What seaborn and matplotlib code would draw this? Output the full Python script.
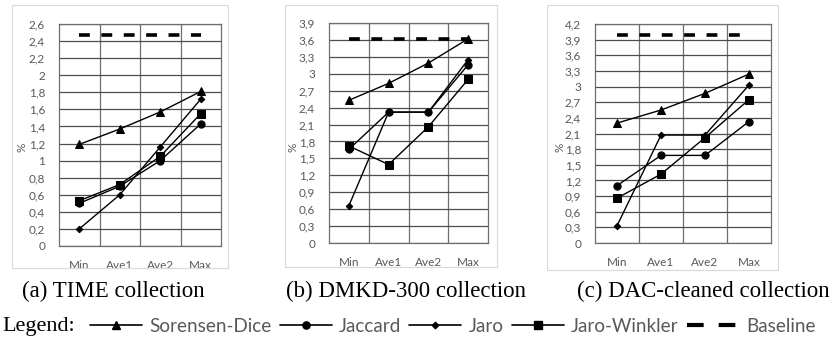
"""Similarity measures vs. baseline on three collections (Excel-style line charts)."""

import matplotlib.pyplot as plt
import numpy as np
import pandas as pd
import seaborn as sns
from matplotlib.lines import Line2D
from matplotlib.patches import Rectangle
from matplotlib.ticker import FixedLocator, FuncFormatter

CATEGORIES = ["Min", "Ave1", "Ave2", "Max"]
METHODS = ["Sorensen-Dice", "Jaccard", "Jaro", "Jaro-Winkler"]

# (a) TIME collection
TIME_DICE = [1.19, 1.37, 1.57, 1.81]
TIME_JACCARD = [0.50, 0.70, 1.00, 1.43]
TIME_JARO = [0.20, 0.60, 1.16, 1.72]
TIME_WINKLER = [0.53, 0.72, 1.05, 1.55]
TIME_BASE = [2.47, 2.47, 2.47, 2.47]

# (b) DMKD-300 collection
DMKD_DICE = [2.53, 2.83, 3.19, 3.62]
DMKD_JACCARD = [1.66, 2.32, 2.32, 3.16]
DMKD_JARO = [0.66, 2.32, 2.32, 3.25]
DMKD_WINKLER = [1.72, 1.39, 2.06, 2.90]
DMKD_BASE = [3.62, 3.62, 3.62, 3.62]

# (c) DAC-cleaned collection
DAC_DICE = [2.30, 2.55, 2.87, 3.24]
DAC_JACCARD = [1.10, 1.68, 1.68, 2.33]
DAC_JARO = [0.33, 2.07, 2.07, 3.03]
DAC_WINKLER = [0.86, 1.32, 2.02, 2.75]
DAC_BASE = [3.99, 3.99, 3.99, 3.99]

CAPTIONS = ["(a) TIME collection", "(b) DMKD-300 collection", "(c) DAC-cleaned collection"]
Y_MAX = [2.6, 3.9, 4.2]
Y_STEP = [0.2, 0.3, 0.3]

MARKERS = {"Sorensen-Dice": "^", "Jaccard": "o", "Jaro": "D", "Jaro-Winkler": "s"}
MSIZE = {"Sorensen-Dice": 5.2, "Jaccard": 5.2, "Jaro": 3.3, "Jaro-Winkler": 5.2}

GREY_TEXT = "#595959"
GRID = "#4d4d4d"

sns.set_theme(style="white")
plt.rcParams["font.family"] = ["Lato", "DejaVu Sans"]


def build_frame(dice, jaccard, jaro, winkler):
    rows = []
    for method, vals in zip(METHODS, [dice, jaccard, jaro, winkler]):
        for cat, v in zip(CATEGORIES, vals):
            rows.append({"method": method, "cat": cat, "value": v})
    return pd.DataFrame(rows)


panels = [
    (build_frame(TIME_DICE, TIME_JACCARD, TIME_JARO, TIME_WINKLER), TIME_BASE),
    (build_frame(DMKD_DICE, DMKD_JACCARD, DMKD_JARO, DMKD_WINKLER), DMKD_BASE),
    (build_frame(DAC_DICE, DAC_JACCARD, DAC_JARO, DAC_WINKLER), DAC_BASE),
]

W, H = 839, 340
fig = plt.figure(figsize=(W / 100, H / 100), dpi=100)

# plot areas in pixels: left, top, right, bottom
boxes = [(59, 24, 221, 246), (329, 23, 488, 243), (595, 24, 771, 243)]
# chart areas (light frames) in pixels
frames = [(12, 5, 228, 268), (285, 5, 497, 267), (547, 5, 778, 270)]
ylabel_x = [22, 293, 560]
caption_x = [113, 406, 703]

for (df, base), (l, t, r, b), fr, ymax, step, cap, yx, cx in zip(
    panels, boxes, frames, Y_MAX, Y_STEP, CAPTIONS, ylabel_x, caption_x
):
    fig.patches.append(
        Rectangle((fr[0] / W, 1 - fr[3] / H), (fr[2] - fr[0]) / W, (fr[3] - fr[1]) / H,
                  transform=fig.transFigure, fill=False, edgecolor="#d9d9d9", lw=0.8)
    )
    ax = fig.add_axes([l / W, 1 - b / H, (r - l) / W, (b - t) / H])

    sns.lineplot(x=CATEGORIES, y=base, ax=ax, color="black", lw=2.6,
                 dashes=False, linestyle=(0, (3.0, 3.2)), zorder=3)
    for m in METHODS:
        sub = df[df["method"] == m]
        sns.lineplot(data=sub, x="cat", y="value", ax=ax, color="black", lw=1.0,
                     marker=MARKERS[m], markersize=MSIZE[m], markeredgecolor="black",
                     zorder=4)

    ax.set_xlim(-0.5, 3.5)
    ax.set_ylim(0, ymax)
    yt = np.round(np.arange(0, ymax + step / 2, step), 1)
    ax.set_yticks(yt)
    ax.yaxis.set_major_formatter(FuncFormatter(lambda v, p: f"{round(v, 1):g}".replace(".", ",")))
    ax.xaxis.set_minor_locator(FixedLocator([0.5, 1.5, 2.5]))
    ax.grid(True, axis="y", which="major", color=GRID, lw=0.9)
    ax.grid(True, axis="x", which="minor", color="#6e6e6e", lw=0.9)
    ax.grid(False, axis="x", which="major")
    ax.set_axisbelow(True)
    for s in ax.spines.values():
        s.set_color("#6e6e6e")
        s.set_linewidth(0.9)
    ax.tick_params(axis="both", which="both", length=0, labelsize=8.5,
                   labelcolor=GREY_TEXT)
    ax.tick_params(axis="x", pad=10)
    ax.tick_params(axis="y", pad=10)
    ax.set_xlabel("")
    ax.set_ylabel("")
    fig.text(yx / W, 1 - 147 / H, "%", rotation=90, ha="center", va="center",
             fontsize=8.5, color=GREY_TEXT)
    fig.text(cx / W, 1 - 291 / H, cap, ha="center", va="center",
             fontsize=16.5, family="Liberation Serif", color="black")

# shared legend
fig.text(75 / W, 1 - 326 / H, "Legend:", ha="right", va="center",
         fontsize=16, family="Liberation Serif", color="black")
handles = [
    Line2D([], [], color="black", lw=1.2, marker=MARKERS[m], markersize=MSIZE[m])
    for m in METHODS
]
handles.append(Line2D([], [], color="black", lw=3, linestyle=(0, (4.0, 3.6))))
labels = METHODS + ["Baseline"]
fig.legend(handles, labels, loc="center left", bbox_to_anchor=(90 / W, 1 - 326 / H),
           ncol=5, frameon=False, fontsize=13.6, labelcolor=GREY_TEXT,
           handlelength=2.75, handletextpad=0.4, columnspacing=0.42, borderaxespad=0,
           borderpad=0)

fig.savefig("out.png", dpi=100)
